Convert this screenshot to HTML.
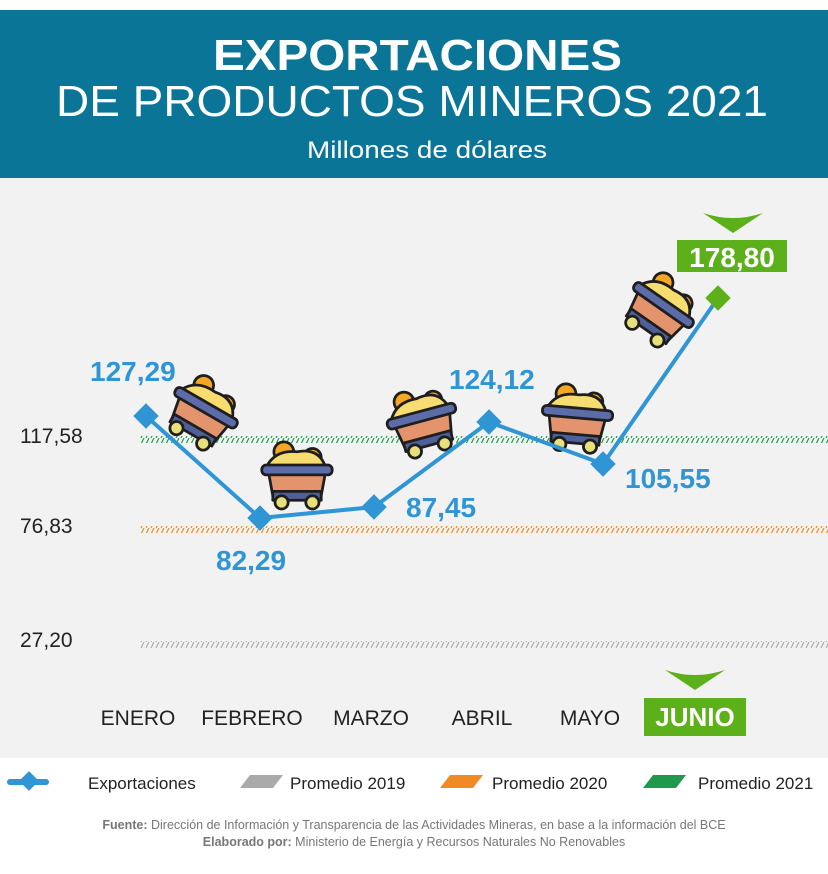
<!DOCTYPE html>
<html><head><meta charset="utf-8"><style>
body{margin:0;width:828px;height:874px;overflow:hidden;background:#fff;font-family:"Liberation Sans",sans-serif}
</style></head><body>
<svg width="828" height="874" viewBox="0 0 828 874" xmlns="http://www.w3.org/2000/svg" style="display:block">
<defs>
<pattern id="hg" width="5" height="6" patternUnits="userSpaceOnUse"><line x1="1" y1="6" x2="4" y2="0" stroke="#1f9a4a" stroke-width="1.2"/></pattern>
<pattern id="ho" width="5" height="6" patternUnits="userSpaceOnUse"><line x1="1" y1="6" x2="4" y2="0" stroke="#f08a24" stroke-width="1.2"/></pattern>
<pattern id="hy" width="5" height="6" patternUnits="userSpaceOnUse"><line x1="1" y1="6" x2="4" y2="0" stroke="#aaa" stroke-width="1.2"/></pattern>
<g id="cart" stroke="#1e1e1e" stroke-width="2.5" stroke-linejoin="round">
<circle cx="-12" cy="-22" r="9" fill="#f5a623"/>
<circle cx="14" cy="-17" r="8" fill="#f5a623"/>
<path d="M-28,-8 Q-20,-24 0,-22 Q20,-26 26,-8 Z" fill="#f7dc6f"/>
<path d="M-26,-4 L26,-4 L22,18 L-22,18 Z" fill="#e4946c"/>
<rect x="-22" y="14" width="44" height="8" fill="#4e5f9a"/>
<rect x="-32" y="-10" width="64" height="9" rx="4" fill="#5c6ca8"/>
<circle cx="-14" cy="24" r="6" fill="#e8e07a"/>
<circle cx="14" cy="24" r="6" fill="#e8e07a"/>
</g>
</defs>
<rect x="0" y="10" width="828" height="168" fill="#0b7597"/>
<rect x="0" y="178" width="828" height="580" fill="#f2f2f2"/>
<text x="213" y="70" font-size="44" font-weight="bold" fill="#fff" textLength="409" lengthAdjust="spacingAndGlyphs">EXPORTACIONES</text>
<text x="56" y="116" font-size="44" fill="#fff" textLength="712" lengthAdjust="spacingAndGlyphs">DE PRODUCTOS MINEROS 2021</text>
<text x="307" y="158" font-size="24" fill="#fff" textLength="240" lengthAdjust="spacingAndGlyphs">Millones de dólares</text>

<rect x="140" y="436" width="688" height="7" fill="url(#hg)"/>
<rect x="140" y="526" width="688" height="7" fill="url(#ho)"/>
<rect x="140" y="641" width="688" height="7" fill="url(#hy)"/>
<g font-size="21" fill="#222">
<text x="20" y="443">117,58</text>
<text x="20" y="533">76,83</text>
<text x="20" y="647">27,20</text>
</g>

<use href="#cart" transform="translate(203,413) rotate(30) scale(1.1)"/>
<use href="#cart" transform="translate(297,476) scale(1.1)"/>
<use href="#cart" transform="translate(423,422) rotate(-15) scale(1.1)"/>
<use href="#cart" transform="translate(577,419) rotate(5) scale(1.1)"/>
<use href="#cart" transform="translate(660,310) rotate(35) scale(1.1)"/>

<polyline points="146,416 260,518 374,507 489,422 603,464 718,298" fill="none" stroke="#2f95d4" stroke-width="4"/>
<g fill="#2f95d4">
<rect x="137" y="407" width="18" height="18" transform="rotate(45 146 416)"/>
<rect x="251" y="509" width="18" height="18" transform="rotate(45 260 518)"/>
<rect x="365" y="498" width="18" height="18" transform="rotate(45 374 507)"/>
<rect x="480" y="413" width="18" height="18" transform="rotate(45 489 422)"/>
<rect x="594" y="455" width="18" height="18" transform="rotate(45 603 464)"/>
</g>
<rect x="709" y="289" width="18" height="18" fill="#5cb019" transform="rotate(45 718 298)"/>

<g font-size="28" font-weight="bold" fill="#2f95d4">
<text x="90" y="381">127,29</text>
<text x="216" y="570">82,29</text>
<text x="406" y="517">87,45</text>
<text x="449" y="389">124,12</text>
<text x="625" y="488">105,55</text>
</g>
<path d="M703,213 Q733,223 763,213 L733,233 Z" fill="#5cb019"/>
<rect x="677" y="240" width="110" height="32" fill="#5cb019"/>
<text x="732" y="267" text-anchor="middle" font-size="28" font-weight="bold" fill="#fff">178,80</text>

<g font-size="21" fill="#222" text-anchor="middle">
<text x="138" y="725">ENERO</text>
<text x="252" y="725">FEBRERO</text>
<text x="371" y="725">MARZO</text>
<text x="482" y="725">ABRIL</text>
<text x="590" y="725">MAYO</text>
</g>
<path d="M665,670 Q695,680 725,670 L695,690 Z" fill="#5cb019"/>
<rect x="644" y="698" width="102" height="38" fill="#5cb019"/>
<text x="695" y="726" text-anchor="middle" font-size="26" font-weight="bold" fill="#fff">JUNIO</text>

<line x1="10" y1="782" x2="46" y2="782" stroke="#2f95d4" stroke-width="6" stroke-linecap="round"/>
<rect x="22" y="774" width="14" height="14" fill="#2f95d4" transform="rotate(45 29 781)"/>
<text x="88" y="789" font-size="17" fill="#222">Exportaciones</text>
<polygon points="240,788 250,775 283,775 273,788" fill="#aaa"/>
<text x="290" y="789" font-size="17" fill="#222">Promedio 2019</text>
<polygon points="440,788 450,775 483,775 473,788" fill="#f08a24"/>
<text x="492" y="789" font-size="17" fill="#222">Promedio 2020</text>
<polygon points="643,788 653,775 686,775 676,788" fill="#1f9a4a"/>
<text x="698" y="789" font-size="17" fill="#222">Promedio 2021</text>

<text x="414" y="829" text-anchor="middle" font-size="12.5" fill="#777"><tspan font-weight="bold">Fuente:</tspan> Dirección de Información y Transparencia de las Actividades Mineras, en base a la información del BCE</text>
<text x="414" y="846" text-anchor="middle" font-size="12.5" fill="#777"><tspan font-weight="bold">Elaborado por:</tspan>  Ministerio de Energía y Recursos Naturales No Renovables</text>
</svg>
</body></html>
